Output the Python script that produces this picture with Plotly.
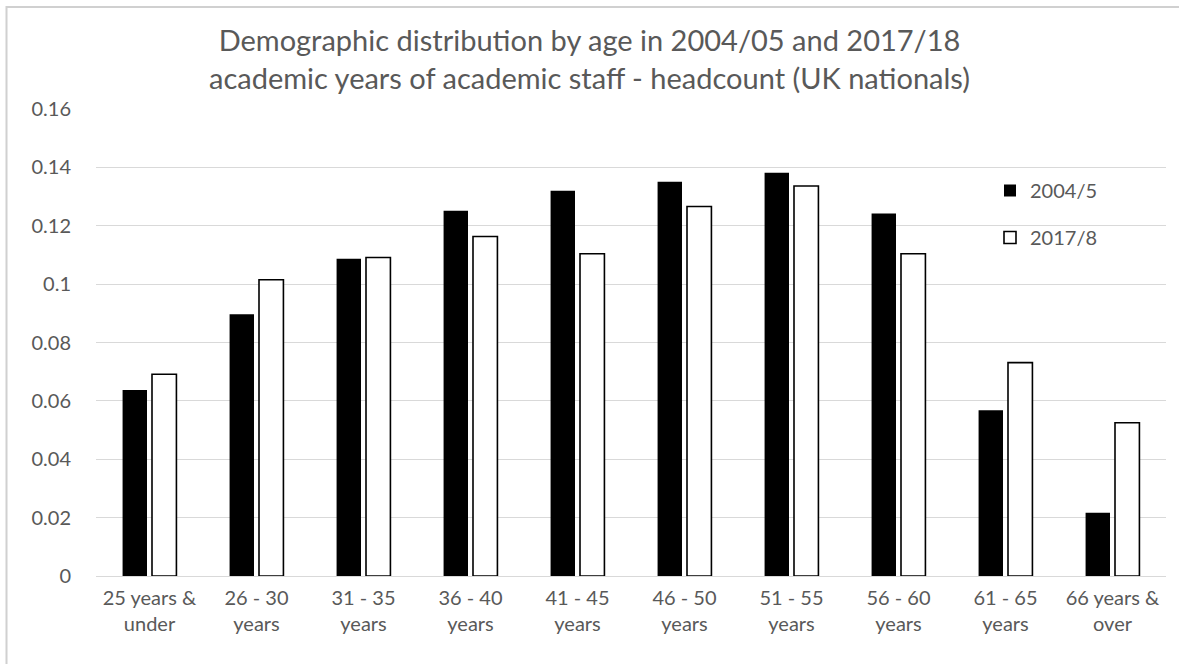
import plotly.graph_objects as go

categories = ["25 years &<br>under", "26 - 30<br>years", "31 - 35<br>years", "36 - 40<br>years",
              "41 - 45<br>years", "46 - 50<br>years", "51 - 55<br>years", "56 - 60<br>years",
              "61 - 65<br>years", "66 years &<br>over"]
v2004 = [0.0637, 0.0897, 0.1087, 0.1251, 0.1320, 0.1351, 0.1382, 0.1242, 0.0568, 0.0217]
v2017 = [0.0691, 0.1015, 0.1091, 0.1163, 0.1104, 0.1266, 0.1336, 0.1104, 0.0731, 0.0525]
series_names = ["2004/5", "2017/8"]
title_text = ("Demographic distribution by age in 2004/05 and 2017/18<br>"
              "academic years of academic staff - headcount (UK nationals)")

FONT = "Lato"
GRAY = "#595959"

fig = go.Figure()
fig.add_trace(go.Bar(x=categories, y=v2004, name=series_names[0], legendgroup="a",
                     marker=dict(color="black", line=dict(color="black", width=0))))
fig.add_trace(go.Bar(x=categories, y=v2017, name=series_names[1], legendgroup="b",
                     marker=dict(color="white", line=dict(color="black", width=1.6))))

W, H = 1179, 664
L, R, T, B = 96, 13, 109, 88
pw, ph = W - L - R, H - T - B

def px_x(p):
    return (p - L) / pw

def px_y(p):
    return (H - B - p) / ph

fig.update_layout(
    width=W, height=H,
    margin=dict(l=L, r=R, t=T, b=B),
    paper_bgcolor="white", plot_bgcolor="white",
    font=dict(family=FONT, color=GRAY, size=20),
    title=dict(text=title_text, x=0.5, xanchor="center", xref="container",
               y=1 - 51 / H, yanchor="top", yref="container",
               font=dict(family=FONT, size=29, color=GRAY)),
    barmode="group", bargap=0.45, bargroupgap=0.17,
    legend=dict(x=px_x(990), y=px_y(171), xanchor="left", yanchor="top",
                font=dict(family=FONT, size=20, color=GRAY),
                traceorder="grouped", tracegroupgap=18, itemwidth=30,
                bgcolor="rgba(0,0,0,0)"),
    xaxis=dict(showgrid=False, showline=False, zeroline=False,
               tickfont=dict(family=FONT, size=20, color=GRAY), ticks="",
               ticklabelstandoff=8),
    yaxis=dict(range=[0, 0.16], dtick=0.02, showgrid=True, gridcolor="#d9d9d9", gridwidth=1,
               zeroline=True, zerolinecolor="#d9d9d9", zerolinewidth=1, showline=False,
               tickfont=dict(family=FONT, size=20, color=GRAY), ticklabelstandoff=24),
    shapes=[dict(type="rect", xref="paper", yref="paper",
                 x0=px_x(6.5), x1=px_x(W + 20), y0=px_y(H + 20), y1=px_y(7),
                 line=dict(color="#d0d0d0", width=2), fillcolor="rgba(0,0,0,0)", layer="above")],
)

fig.write_html("out.html")
